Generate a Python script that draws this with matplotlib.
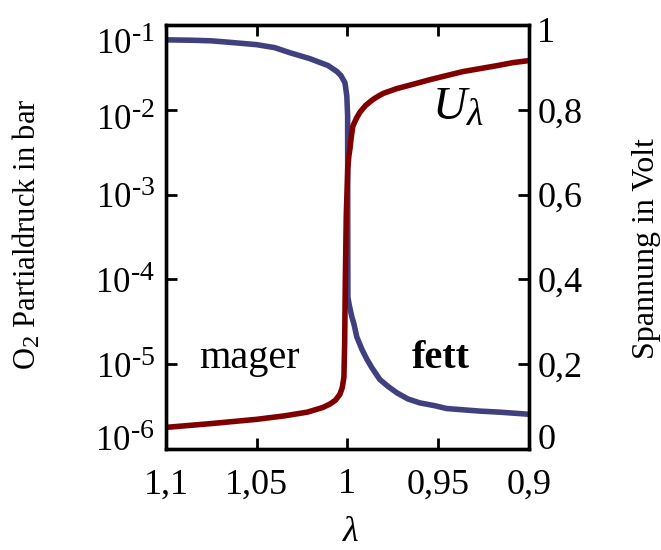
import numpy as np
import matplotlib.pyplot as plt
import matplotlib._mathtext as mathtext_internal
from matplotlib.transforms import ScaledTranslation

plt.rcParams['font.family'] = ['Liberation Serif', 'DejaVu Serif']
plt.rcParams['mathtext.fontset'] = 'custom'
plt.rcParams['mathtext.rm'] = 'Liberation Serif'
plt.rcParams['mathtext.it'] = 'Liberation Serif:italic'
plt.rcParams['mathtext.bf'] = 'Liberation Serif:bold'
# gnuplot-artige, groessere Hoch-/Tiefstellung
mathtext_internal.SHRINK_FACTOR = 0.8

# O2 Partialdruck (linke Achse, log)
lam_o2 = [1.1, 1.085, 1.075, 1.0647, 1.05, 1.04, 1.0317, 1.0207, 1.0151, 1.0107, 1.0058,
          1.0036, 1.0014, 1.0011, 1.0003, 0.99985, 0.9998, 0.99972, 0.9989, 0.9975,
          0.9964, 0.9948, 0.992, 0.9893, 0.9865, 0.9821, 0.9777, 0.9727, 0.9667,
          0.9601, 0.9518, 0.9452, 0.927, 0.916, 0.9]
p_o2 = [6.68e-2, 6.60e-2, 6.50e-2, 6.24e-2, 5.86e-2, 5.40e-2, 4.71e-2, 4.01e-2, 3.61e-2,
        3.33e-2, 2.83e-2, 2.54e-2, 2.10e-2, 1.94e-2, 1.45e-2, 8.5e-3, 1.0e-3, 6.2e-5,
        4.9e-5, 3.6e-5, 3.0e-5, 2.1e-5, 1.5e-5, 1.15e-5, 9.1e-6, 6.6e-6, 5.5e-6, 4.6e-6,
        3.9e-6, 3.5e-6, 3.24e-6, 3.0e-6, 2.8e-6, 2.72e-6, 2.57e-6]

# Sondenspannung (rechte Achse)
lam_u = [1.1, 1.075, 1.05, 1.035, 1.022, 1.0135, 1.0096, 1.0066, 1.0041, 1.0028,
         1.0019, 1.0015, 1.0011, 1.0006, 0.9998, 0.9992, 0.9986, 0.9978, 0.997,
         0.995, 0.9931, 0.99, 0.986, 0.983, 0.98, 0.9727, 0.963, 0.9545, 0.945,
         0.9364, 0.927, 0.9176, 0.909, 0.9]
u_volt = [0.051, 0.060, 0.070, 0.078, 0.087, 0.098, 0.106, 0.115, 0.129, 0.145,
          0.169, 0.246, 0.403, 0.55, 0.66, 0.69, 0.707, 0.737, 0.761,
          0.78, 0.794, 0.81, 0.824, 0.832, 0.839, 0.850, 0.861, 0.871, 0.881,
          0.89, 0.897, 0.904, 0.911, 0.916]

xticks = [1.1, 1.05, 1.0, 0.95, 0.9]
xticklabels = ['1,1', '1,05', '1', '0,95', '0,9']
yticks_l = [1e-6, 1e-5, 1e-4, 1e-3, 1e-2, 1e-1]
yticklabels_l = ['$10^{\u2010' + str(k) + '}$' for k in [6, 5, 4, 3, 2, 1]]
yticks_r = [0, 0.2, 0.4, 0.6, 0.8, 1]
yticklabels_r = ['0', '0,2', '0,4', '0,6', '0,8', '1']

blue = '#40407f'
red = '#800000'

fig = plt.figure(figsize=(6.61, 5.5), dpi=100)
ax = fig.add_axes([0.251, 0.1836, 0.549, 0.771])
ax.set_yscale('log')
ax.plot(lam_o2, p_o2, color=blue, lw=4, solid_joinstyle='round')
ax.set_xlim(1.1, 0.9)
ax.set_ylim(1e-6, 1e-1)
ax.set_xticks(xticks)
ax.set_xticklabels(xticklabels)
ax.set_yticks(yticks_l)
ax.set_yticklabels(yticklabels_l)
ax.minorticks_off()
ax.tick_params(axis='both', direction='in', length=8, width=2, labelsize=26)
ax.tick_params(axis='x', top=True, pad=14)
ax.tick_params(axis='y', pad=8, labelsize=25)
ax.set_xlabel(r'$\lambda$', fontsize=26)
ax.xaxis.set_label_coords(0.51, -0.158)
ax.set_ylabel(r'O$_2$ Partialdruck in bar', fontsize=22)
ax.yaxis.set_label_coords(-0.339, 0.507)

ax2 = ax.twinx()
ax2.plot(lam_u, u_volt, color=red, lw=4, solid_joinstyle='round')
ax2.set_ylim(0, 1)
ax2.set_yticks(yticks_r)
ax2.set_yticklabels(yticklabels_r)
ax2.tick_params(axis='y', direction='in', length=8, width=2, labelsize=26, pad=6)
ax2.set_ylabel('Spannung in Volt', fontsize=23)
ax2.yaxis.set_label_coords(1.284, 0.474)

# Randbeschriftungen wie im Original etwas nach innen ruecken
for lab, dy in zip(ax.get_yticklabels(), [8, 0, 0, 0, -5, -11]):
    lab.set_transform(lab.get_transform() + ScaledTranslation(0, dy / 72, fig.dpi_scale_trans))
for lab, dy in zip(ax2.get_yticklabels(), [9, 0, 0, 0, 0, -3]):
    lab.set_transform(lab.get_transform() + ScaledTranslation(0, dy / 72, fig.dpi_scale_trans))

for a in (ax, ax2):
    for s in a.spines.values():
        s.set_linewidth(2.4)

ax.text(0.231, 0.191, 'mager', transform=ax.transAxes, ha='center', va='baseline', fontsize=29)
ax.text(0.758, 0.191, 'fett', transform=ax.transAxes, ha='center', va='baseline',
        fontsize=29, fontweight='bold')
ax.text(0.733, 0.776, r'$U_\lambda$', transform=ax.transAxes, ha='left', va='baseline',
        fontsize=34)

fig.savefig('out.png', dpi=100)
